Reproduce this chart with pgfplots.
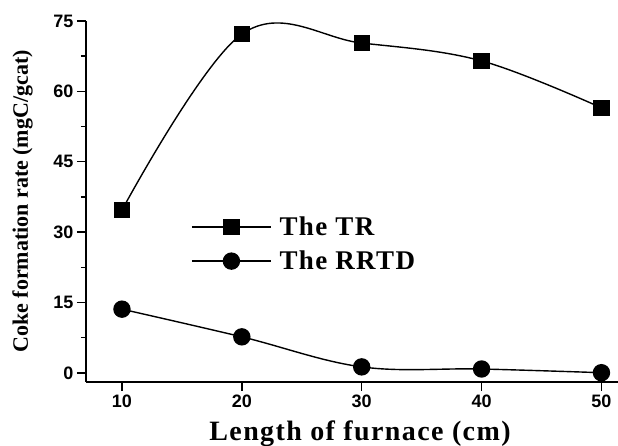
\documentclass[border=0pt]{standalone}
\usepackage{fontspec}
\setmainfont{Liberation Serif}
\newfontfamily\tickfont{Liberation Sans}
\newfontfamily\spacedfont[LetterSpace=5]{Liberation Serif}
\usepackage{pgfplots}
\pgfplotsset{compat=1.18}

\begin{document}
\begin{tikzpicture}
\begin{axis}[name=ax, width=532pt, height=361pt, scale only axis,
 xmin=7, xmax=51.38, ymin=-1.92, ymax=75,
 axis x line=bottom, axis y line=left, axis line style={-, line width=1.5pt},
 xtick={10,20,30,40,50}, ytick={0,15,...,75}, minor y tick num=1,
 tick align=outside, major tick length=9pt, minor tick length=5pt,
 every tick/.style={line width=1.4pt, black},
 tick label style={font=\tickfont\bfseries\fontsize{18}{18}\selectfont},
 /pgf/number format/assume math mode=true,
 xlabel={Length of furnace (cm)},
 ylabel={Coke formation rate (mgC/gcat)},
 xlabel style={font=\spacedfont\bfseries\fontsize{28}{28}\selectfont, at={(axis description cs:0.515,-0.1634)}, anchor=base, inner sep=0pt},
 ylabel style={font=\bfseries\fontsize{22}{22}\selectfont, at={(axis description cs:-0.0996,0.5)}, anchor=south, inner sep=0pt},
 legend style={draw=none, fill=none, at={(axis description cs:0.1974,0.3823)}, anchor=west, inner sep=0pt, row sep=14pt, column sep=8pt, nodes={inner sep=0pt}, font=\spacedfont\bfseries\fontsize{27}{27}\selectfont},
 legend cell align=left,
 legend image code/.code={\draw[mark repeat=2,mark phase=2,#1] plot coordinates {(0pt,0pt) (39.5pt,0pt) (79pt,0pt)};},
]
\addplot[black, line width=1.4pt, smooth, tension=0.6, mark=square*, mark size=7.5pt, mark options={solid, fill=black}] coordinates {
(10,34.7) (20,72.2) (30,70.3) (40,66.5) (50,56.5)};
\addlegendentry{The TR}
\addplot[black, line width=1.4pt, smooth, tension=0.6, mark=*, mark size=8pt, mark options={solid, fill=black}] coordinates {
(10,13.6) (20,7.7) (30,1.3) (40,0.85) (50,0.06)};
\addlegendentry{The RRTD}
\end{axis}
\pgfresetboundingbox
\path ([shift={(-86pt,-64pt)}]ax.south west) rectangle ([shift={(0pt,21pt)}]ax.north east);
\end{tikzpicture}
\end{document}
